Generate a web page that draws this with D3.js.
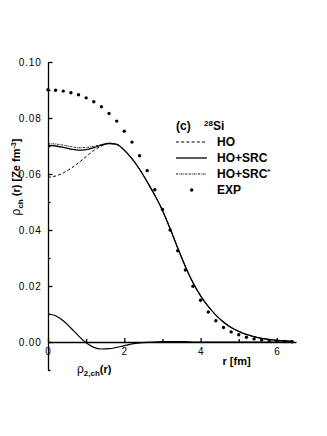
<!DOCTYPE html>
<html>
<head>
<meta charset="utf-8">
<title>28Si charge density</title>
<script src="https://d3js.org/d3.v7.min.js"></script>
<style>
  body { margin: 0; background: #fff; }
  svg text { font-family: "Liberation Sans", Arial, Helvetica, sans-serif; fill: #000; }
  .tk text { font-size: 10px; letter-spacing: 0.8px; }
  .tk path, .tk line { stroke: #000; stroke-width: 1.3; }
</style>
</head>
<body>
<div id="chart"></div>
<script>
// r grid (fm) for the calculated curves
const rGrid = [0,0.2,0.4,0.6,0.8,1.0,1.2,1.4,1.6,1.8,2.0,2.2,2.4,2.6,2.8,3.0,3.2,3.4,3.6,3.8,
               4.0,4.2,4.4,4.6,4.8,5.0,5.2,5.4,5.6,5.8,6.0,6.2,6.4];

// common tail of the three curves for r >= 2.0
const tailVals = [0.0685,0.0655,0.0617,0.0572,0.0524,0.0470,0.0405,0.0336,0.0270,0.0212,
                  0.0165,0.0127,0.0096,0.0071,0.0052,0.0038,0.0027,0.0019,0.0013,0.0009,
                  0.0006,0.0004,0.0003];
const hoHead     = [0.0588,0.0593,0.0604,0.0620,0.0640,0.0662,0.0684,0.0700,0.0709,0.0705];
const hoSrcHead  = [0.0702,0.0700,0.0695,0.0689,0.0685,0.0687,0.0694,0.0703,0.0709,0.0706];
const hoSrcSHead = [0.0708,0.0707,0.0703,0.0698,0.0694,0.0695,0.0699,0.0705,0.0710,0.0707];

const hoVals     = hoHead.concat(tailVals);
const hoSrcVals  = hoSrcHead.concat(tailVals);
const hoSrcSVals = hoSrcSHead.concat(tailVals);

// two-body term rho_2,ch(r)
const rho2Vals = [0.0100,0.0094,0.0076,0.0050,0.0022,-0.0003,-0.0019,-0.0025,-0.0024,-0.0019,
                  -0.0013,-0.0007,-0.0003,-0.0001,0.0000,0.0001,0.0001,0.0001,0.0001,0.0000,
                  0,0,0,0,0,0,0,0,0,0,0,0,0];

// experimental points
const expR = [0,0.2,0.4,0.6,0.8,1.0,1.2,1.4,1.6,1.8,2.0,2.2,2.4,2.6,2.8,3.0,3.2,3.4,3.6,3.8,
              4.0,4.2,4.4,4.6,4.8,5.0,5.2,5.4,5.6,5.8,6.0,6.2,6.4];
const expVals = [0.0901,0.0899,0.0896,0.0890,0.0883,0.0872,0.0858,0.0840,0.0816,0.0789,
                 0.0753,0.0714,0.0665,0.0612,0.0544,0.0473,0.0400,0.0326,0.0257,0.0199,
                 0.0149,0.0107,0.0076,0.0052,0.0036,0.0026,0.0017,0.0011,0.0007,0.0005,
                 0.0003,0.0002,0.0001];

const yMajor = [0,0.02,0.04,0.06,0.08,0.10];
const yMinor = [-0.01,0.01,0.03,0.05,0.07,0.09];
const xMajor = [0,2,4,6];
const xMinor = [1,3,5];

const W = 327, H = 436;
const svg = d3.select("#chart").append("svg").attr("width", W).attr("height", H);
svg.append("rect").attr("width", W).attr("height", H).attr("fill", "#fff");

const x = d3.scaleLinear().domain([0, 6.5]).range([48, 296]);
const y = d3.scaleLinear().domain([-0.01, 0.10]).range([370, 62]);

// y axis
svg.append("g").attr("class", "tk").attr("transform", "translate(" + x(0) + ",0)")
  .call(d3.axisLeft(y).tickValues(yMajor).tickFormat(d3.format(".2f"))
        .tickSizeInner(-4.5).tickSizeOuter(0).tickPadding(6.5))
  .select(".domain").attr("stroke-width", 1.6);
svg.append("g").attr("class", "tk").attr("transform", "translate(" + x(0) + ",0)")
  .call(d3.axisLeft(y).tickValues(yMinor).tickFormat("").tickSizeInner(-2.5).tickSizeOuter(0))
  .select(".domain").remove();

// x axis along rho = 0
svg.append("g").attr("class", "tk").attr("transform", "translate(0," + y(0) + ")")
  .call(d3.axisBottom(x).tickValues(xMajor).tickFormat(d3.format("d"))
        .tickSizeInner(-4).tickSizeOuter(0).tickPadding(6));
svg.append("g").attr("class", "tk").attr("transform", "translate(0," + y(0) + ")")
  .call(d3.axisBottom(x).tickValues(xMinor).tickFormat("").tickSizeInner(-3).tickSizeOuter(0))
  .select(".domain").remove();

// curves
const line = d3.line().x(d => x(d[0])).y(d => y(d[1])).curve(d3.curveMonotoneX);
function curve(vals, dash, sw) {
  svg.append("path")
    .datum(rGrid.map((r, i) => [r, vals[i]]))
    .attr("d", line)
    .attr("fill", "none")
    .attr("stroke", "#000")
    .attr("stroke-width", sw)
    .attr("stroke-dasharray", dash);
}
curve(hoVals, "3,2.2", 1.0);
curve(hoSrcSVals, "2,0.8,0.8,0.8", 0.9);
curve(hoSrcVals, null, 1.3);
curve(rho2Vals, null, 1.2);

// experimental points
svg.append("g").selectAll("circle")
  .data(expR.map((r, i) => [r, expVals[i]]))
  .join("circle")
  .attr("cx", d => x(d[0]))
  .attr("cy", d => y(d[1]))
  .attr("r", 1.7)
  .attr("fill", "#000");

// legend
const lg = svg.append("g").attr("font-weight", "bold").attr("font-size", 12);
lg.append("text").attr("x", 176).attr("y", 130).text("(c)");
const si = lg.append("text").attr("x", 204).attr("y", 130);
si.append("tspan").attr("font-size", 8).attr("dy", -4).text("28");
si.append("tspan").attr("dy", 4).text("Si");

const legItems = [
  { name: "HO", dash: "3,2.2", sw: 1.0 },
  { name: "HO+SRC", dash: null, sw: 1.3 },
  { name: "HO+SRC", dash: "2,0.8,0.8,0.8", sw: 0.9, star: true }
];
legItems.forEach((it, i) => {
  const yy = 142 + i * 16;
  lg.append("line").attr("x1", 176).attr("x2", 207).attr("y1", yy).attr("y2", yy)
    .attr("stroke", "#000").attr("stroke-width", it.sw).attr("stroke-dasharray", it.dash);
  const t = lg.append("text").attr("x", 217).attr("y", yy + 4).text(it.name);
  if (it.star) t.append("tspan").attr("font-size", 8).attr("dy", -4).text("*");
});
lg.append("circle").attr("cx", 191.7).attr("cy", 190).attr("r", 1.7).attr("fill", "#000");
lg.append("text").attr("x", 217).attr("y", 194).text("EXP");

// axis titles
const yt = svg.append("text")
  .attr("transform", "translate(20,177) rotate(-90)")
  .attr("text-anchor", "middle").attr("font-size", 11).attr("font-weight", "bold");
yt.append("tspan").attr("font-weight", "normal").attr("font-size", 12).text("ρ");
yt.append("tspan").attr("font-size", 8).attr("dy", 3).text("ch");
yt.append("tspan").attr("dy", -3).text(" (r) [Ze fm");
yt.append("tspan").attr("font-size", 7).attr("dy", -4).text("-3");
yt.append("tspan").attr("dy", 4).text("]");

svg.append("text").attr("x", 222.5).attr("y", 365)
  .attr("font-size", 11).attr("font-weight", "bold").text("r [fm]");

const r2 = svg.append("text").attr("x", 77).attr("y", 373)
  .attr("font-size", 11).attr("font-weight", "bold");
r2.append("tspan").attr("font-weight", "normal").attr("font-size", 12).text("ρ");
r2.append("tspan").attr("font-size", 8).attr("dy", 3).text("2,ch");
r2.append("tspan").attr("dy", -3).text("(r)");
</script>
</body>
</html>
